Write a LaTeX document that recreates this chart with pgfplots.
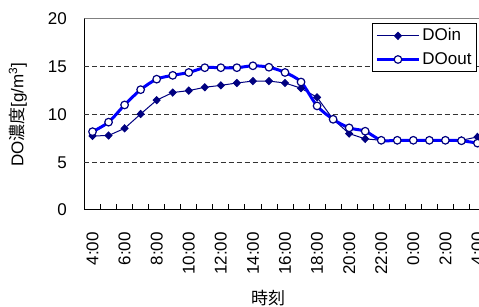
\documentclass[border=0pt]{standalone}
\usepackage{fontspec}
\setmainfont{Liberation Sans}
\newfontfamily\jp{Noto Sans CJK JP}
\usepackage{pgfplots}
\pgfplotsset{compat=1.18}
\definecolor{navy}{RGB}{0,0,128}
\definecolor{pureblue}{RGB}{0,0,255}
\begin{document}
\fontsize{17}{20}\selectfont
\begin{tikzpicture}
\begin{axis}[
  scale only axis, width=401pt, height=191pt,
  xmin=-0.5, xmax=24.5, ymin=0, ymax=20,
  xtick={0,2,...,24},
  xticklabels={4:00,6:00,8:00,10:00,12:00,14:00,16:00,18:00,20:00,22:00,0:00,2:00,4:00},
  minor xtick={-0.5,0.5,...,24.5},
  ytick={0,5,10,15,20},
  extra y ticks={5,10,15},
  extra y tick labels={},
  extra y tick style={grid=major, major tick length=0pt},
  major tick length=0pt,
  minor tick length=6pt,
  tick align=inside,
  xtick pos=bottom, ytick pos=left,
  minor tick style={black, line width=0.8pt},
  axis line style={black, line width=1pt},
  tick label style={font=\fontsize{17}{20}\selectfont, inner sep=0pt},
  /pgf/number format/assume math mode=true,
  xticklabel style={rotate=90, anchor=east},
  xticklabel shift=22pt,
  yticklabel shift=17.5pt,
  grid style={black!80, dashed, dash pattern=on 5pt off 3pt, line width=0.8pt},
  ylabel={DO{\jp 濃度}[g/m\textsuperscript{3}]},
  ylabel style={at={(axis description cs:-0.166,0.5)}, anchor=center, font=\fontsize{17}{20}\selectfont},
  xlabel={{\jp 時刻}},
  xlabel style={at={(axis description cs:0.458,-0.461)}, anchor=center, font=\fontsize{17}{20}\selectfont},
  legend image code/.code={\draw[mark repeat=2,mark phase=2] plot coordinates {(0pt,0pt) (21pt,0pt) (42pt,0pt)};},
  legend style={at={(axis description cs:0.9788,0.979)}, anchor=north east, draw=black, line width=0.8pt, fill=white,
    font=\fontsize{17}{20}\selectfont, inner xsep=3pt, inner ysep=3pt, row sep=5pt},
  legend cell align=left,
]
\addplot[navy, line width=1pt, mark=diamond*, mark size=3.5pt, mark options={fill=navy, solid, xscale=1.3}]
coordinates {
(0,7.75) (1,7.8) (2,8.55) (3,10.05) (4,11.5) (5,12.3) (6,12.5) (7,12.85) (8,13.05) (9,13.3)
(10,13.5) (11,13.5) (12,13.3) (13,12.75) (14,11.8) (15,9.5) (16,8.0) (17,7.45) (18,7.3) (19,7.3)
(20,7.3) (21,7.3) (22,7.3) (23,7.3) (24,7.65)
};
\addlegendentry{DOin}
\addplot[pureblue, line width=3pt, smooth, tension=0.5, mark=*, mark size=3.8pt, mark options={fill=white, draw=navy, line width=1.2pt, solid}]
coordinates {
(0,8.2) (1,9.2) (2,11.0) (3,12.6) (4,13.7) (5,14.1) (6,14.4) (7,14.9) (8,14.9) (9,14.9)
(10,15.1) (11,14.95) (12,14.4) (13,13.4) (14,10.9) (15,9.5) (16,8.6) (17,8.25) (18,7.3) (19,7.3)
(20,7.3) (21,7.3) (22,7.3) (23,7.25) (24,7.0)
};
\addlegendentry{DOout}
\draw[gray, line width=1pt] (rel axis cs:0,1) -- (rel axis cs:1,1);
\end{axis}
\pgfresetboundingbox
\useasboundingbox (-84.5pt,-97pt) rectangle (394.5pt,210pt);
\end{tikzpicture}
\end{document}
